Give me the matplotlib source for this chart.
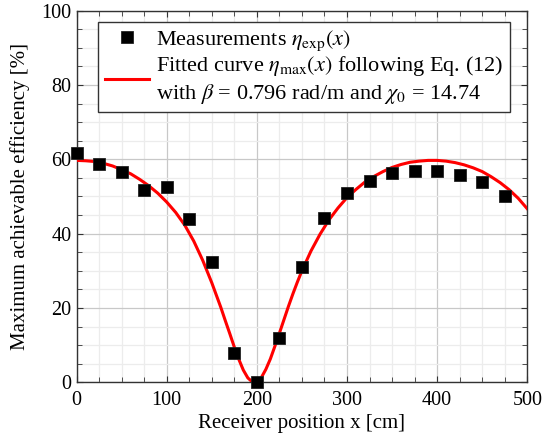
import matplotlib
matplotlib.use('Agg')
import matplotlib.pyplot as plt
from matplotlib.ticker import MultipleLocator

plt.rcParams['font.family'] = ['Liberation Serif', 'DejaVu Serif']
plt.rcParams['mathtext.fontset'] = 'stix'

# measured efficiencies at each receiver position
x_meas = [0, 25, 50, 75, 100, 125, 150, 175, 200, 225,
          250, 275, 300, 325, 350, 375, 400, 425, 450, 475]
eta_meas = [61.7, 58.6, 56.6, 51.8, 52.6, 43.9, 32.3, 7.8, 0.0, 11.9,
            31.1, 44.1, 51.0, 54.2, 56.3, 56.9, 56.8, 55.9, 53.8, 50.0]

# fitted curve, sampled along x
x_fit = [0, 10, 20, 30, 40, 50, 60, 70, 80, 90, 100, 110, 120, 130, 140,
         150, 155, 160, 165, 170, 175, 180, 185, 190, 195, 197.5, 200, 205,
         210, 215, 220, 225, 230, 235, 240, 245, 250, 260, 270, 280, 290,
         300, 310, 320, 330, 340, 350, 360, 370, 380, 390, 400, 410, 420,
         430, 440, 450, 460, 470, 480, 490, 500]
eta_fit = [59.7, 59.6, 59.4, 58.9, 58.2, 57.2, 56.1, 54.6, 52.9, 50.9, 48.5,
           45.7, 42.3, 38.0, 32.8, 26.8, 23.5, 20.2, 16.6, 13.1, 9.5, 6.2,
           3.3, 1.2, 0.1, 0.0, 0.2, 1.3, 3.5, 6.3, 9.7, 13.2, 16.8, 20.4,
           23.8, 27.0, 30.0, 35.3, 39.8, 43.7, 46.9, 49.7, 51.9, 53.9, 55.4,
           56.7, 57.8, 58.6, 59.2, 59.5, 59.7, 59.7, 59.5, 59.1, 58.5, 57.7,
           56.7, 55.3, 53.7, 51.8, 49.5, 46.7]

fig = plt.figure(figsize=(5.43, 4.40), dpi=100)
ax = fig.add_axes([0.141, 0.131, 0.830, 0.845])

ax.plot(x_fit, eta_fit, color='#ff0000', lw=2.2, zorder=3,
        label='Fitted curve $\\eta_{\\mathrm{max}}(x)$ following Eq. (12)\n'
              'with $\\beta$ = 0.796 rad/m and $\\chi_0$ = 14.74')
ax.plot(x_meas, eta_meas, 's', color='black', ms=8.3, mec='#222222', mew=0.6,
        clip_on=False, zorder=4, label='Measurements $\\eta_{\\mathrm{exp}}(x)$')

ax.set_xlim(0, 500)
ax.set_ylim(0, 100)
ax.xaxis.set_major_locator(MultipleLocator(100))
ax.xaxis.set_minor_locator(MultipleLocator(25))
ax.yaxis.set_major_locator(MultipleLocator(20))
ax.yaxis.set_minor_locator(MultipleLocator(5))

ax.grid(which='major', color='#c8c8c8', lw=0.9)
ax.grid(which='minor', color='#ececec', lw=0.9)
ax.set_axisbelow(True)

for s in ax.spines.values():
    s.set_color('#333333')
    s.set_linewidth(1.0)
ax.tick_params(which='both', direction='in', top=True, right=True,
               color='#333333', labelsize=14.5)
ax.tick_params(axis='x', which='major', pad=6)
ax.tick_params(which='major', length=4.5, width=0.8)
ax.tick_params(which='minor', length=3.5, width=0.6)

ax.set_xlabel('Receiver position x [cm]', fontsize=15, labelpad=3)
ax.set_ylabel('Maximum achievable efficiency [%]', fontsize=15, labelpad=8)

handles, labels = ax.get_legend_handles_labels()
leg = ax.legend(handles[::-1], labels[::-1], loc='upper center',
                bbox_to_anchor=(0.505, 0.969), borderaxespad=0,
                fontsize=16, frameon=True,
                fancybox=False, framealpha=1, edgecolor='#333333',
                handlelength=2.0, handletextpad=0.33, borderpad=0.3,
                labelspacing=0.05)
leg.get_frame().set_linewidth(1.0)

fig.savefig('out.png', dpi=100)
